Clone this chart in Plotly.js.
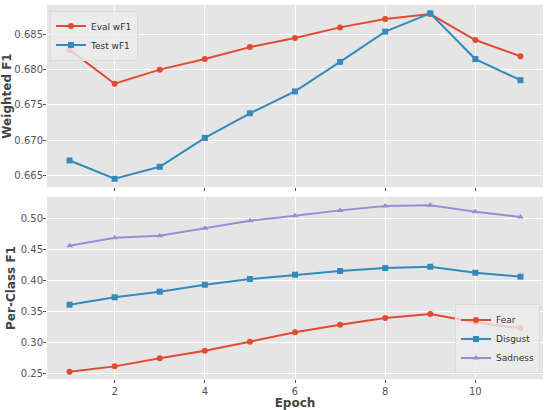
<!DOCTYPE html>
<html>
<head>
<meta charset="utf-8">
<script src="https://cdn.plot.ly/plotly-3.0.1.min.js"></script>
<style>html,body{margin:0;padding:0;background:#fff;}#chart{width:550px;height:410px;}</style>
</head>
<body>
<div id="chart"></div>
<script>
const epochs = [1, 2, 3, 4, 5, 6, 7, 8, 9, 10, 11];
const evalWF1 = [0.6828, 0.6780, 0.6800, 0.6815, 0.6832, 0.6845, 0.6860, 0.6872, 0.6879, 0.6842, 0.6819];
const testWF1 = [0.6671, 0.6645, 0.6662, 0.6703, 0.6738, 0.6769, 0.6811, 0.6854, 0.6880, 0.6815, 0.6785];
const fearF1 = [0.2529, 0.2615, 0.2744, 0.2867, 0.3012, 0.3162, 0.3285, 0.3392, 0.3457, 0.3323, 0.3227];
const disgustF1 = [0.3607, 0.3725, 0.3816, 0.3928, 0.4019, 0.4089, 0.4148, 0.4196, 0.4217, 0.4121, 0.4057];
const sadnessF1 = [0.4555, 0.4683, 0.4716, 0.4834, 0.4957, 0.5037, 0.5123, 0.5193, 0.5204, 0.5102, 0.5016];
const topTicks = [0.665, 0.670, 0.675, 0.680, 0.685];
const bottomTicks = [0.25, 0.30, 0.35, 0.40, 0.45, 0.50];
const xTicks = [2, 4, 6, 8, 10];

const RED = '#E24A33', BLUE = '#348ABD', PURPLE = '#988ED5';
function tr(y, name, color, symbol, xa, ya, leg) {
  return {x: epochs, y: y, name: name, type: 'scatter', mode: 'lines+markers',
    line: {color: color, width: 2}, marker: {color: color, symbol: symbol, size: 6},
    xaxis: xa, yaxis: ya, legend: leg};
}
const data = [
  tr(evalWF1, 'Eval wF1', RED, 'circle', 'x', 'y', 'legend'),
  tr(testWF1, 'Test wF1', BLUE, 'square', 'x', 'y', 'legend'),
  tr(fearF1, 'Fear', RED, 'circle', 'x2', 'y2', 'legend2'),
  tr(disgustF1, 'Disgust', BLUE, 'square', 'x2', 'y2', 'legend2'),
  tr(sadnessF1, 'Sadness', PURPLE, 'triangle-up', 'x2', 'y2', 'legend2')
];
const tickFont = {family: 'DejaVu Sans', size: 10, color: '#555555'};
const titleFont = {family: 'DejaVu Sans', size: 12, color: '#444444', weight: 'bold'};
const legFont = {family: 'DejaVu Sans', size: 9, color: '#333333'};
const xBase = {range: [0.5, 11.5], tickvals: xTicks, showgrid: true, gridcolor: '#ffffff', gridwidth: 1,
  zeroline: false, ticks: 'outside', ticklen: 3, tickcolor: '#555555', tickfont: tickFont, showline: false};
const yBase = {gridcolor: '#ffffff', zeroline: false, ticks: 'outside', ticklen: 3,
  tickcolor: '#555555', tickfont: tickFont, ticklabelstandoff: -2};
const layout = {
  width: 550, height: 410,
  margin: {l: 47, r: 7, t: 5, b: 31},
  paper_bgcolor: '#ffffff', plot_bgcolor: '#E5E5E5',
  font: {family: 'DejaVu Sans'},
  hovermode: false,
  xaxis: Object.assign({}, xBase, {anchor: 'y', showticklabels: false}),
  yaxis: Object.assign({}, yBase, {domain: [0.5134, 1], range: [0.66333, 0.68918], tickvals: topTicks,
    tickformat: '.3f', anchor: 'x', title: {text: 'Weighted F1', font: titleFont, standoff: 2}}),
  xaxis2: Object.assign({}, xBase, {anchor: 'y2', title: {text: 'Epoch', font: titleFont, standoff: 0}}),
  yaxis2: Object.assign({}, yBase, {domain: [0, 0.4866], range: [0.2412, 0.5338], tickvals: bottomTicks,
    tickformat: '.2f', anchor: 'x2', title: {text: 'Per-Class F1', font: titleFont, standoff: 2}}),
  legend: {x: 0.006, y: 0.985, xanchor: 'left', yanchor: 'top', bgcolor: 'rgba(236,236,236,0.8)',
    bordercolor: '#dcdcdc', borderwidth: 1, font: legFont, tracegroupgap: 0, itemwidth: 30},
  legend2: {x: 0.994, y: 0.015, xanchor: 'right', yanchor: 'bottom', bgcolor: 'rgba(236,236,236,0.8)',
    bordercolor: '#dcdcdc', borderwidth: 1, font: legFont, tracegroupgap: 0, itemwidth: 30},
  showlegend: true
};
Plotly.newPlot('chart', data, layout, {staticPlot: true, displayModeBar: false});
</script>
</body>
</html>
